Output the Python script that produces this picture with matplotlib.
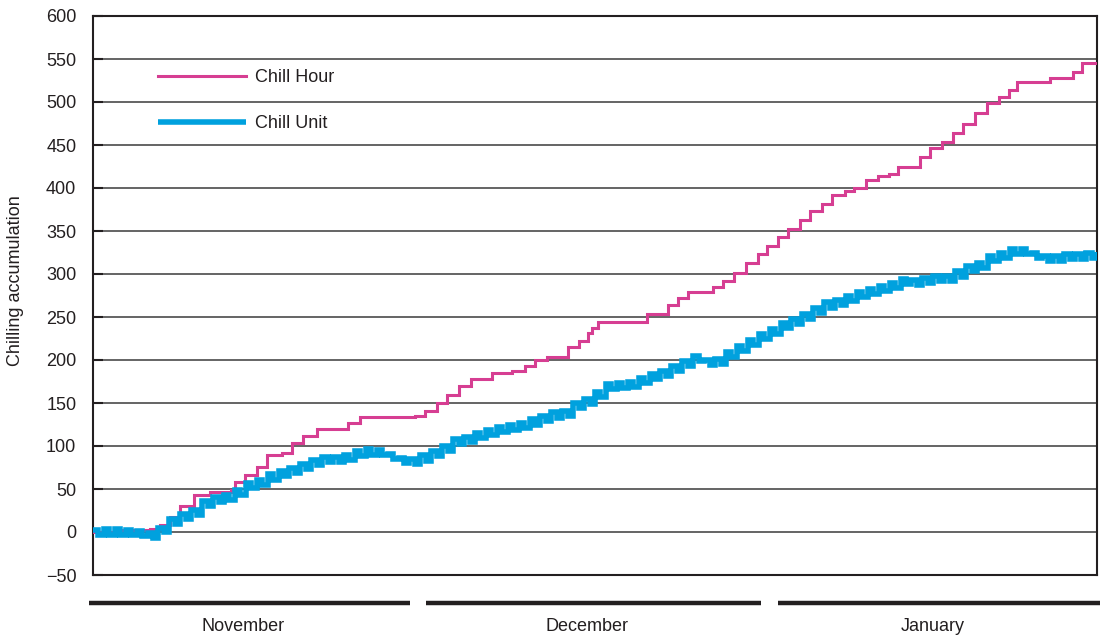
import matplotlib
matplotlib.use("Agg")
import matplotlib.pyplot as plt
import matplotlib.transforms as mtransforms
import numpy as np

plt.rcParams['font.family'] = ['Liberation Sans', 'DejaVu Sans']

# chill hours: (day, accumulated value) at each step change
ch_days = [0, 2.5, 5.2, 6.1, 7.1, 8.0, 9.3, 10.7, 12.6, 13.0, 13.9, 15.0, 15.9,
           17.3, 18.2, 19.2, 20.5, 23.4, 24.5, 29.5, 30.4, 31.5, 32.4, 33.5,
           34.6, 36.6, 38.4, 39.6, 40.5, 41.6, 43.5, 44.5, 45.4, 45.7, 46.3,
           50.8, 52.7, 53.6, 54.5, 56.8, 57.7, 58.7, 59.8, 60.9, 61.8, 62.8,
           63.7, 64.8, 65.7, 66.8, 67.7, 68.9, 69.7, 70.8, 71.9, 72.9, 73.8,
           75.8, 76.7, 77.8, 78.8, 79.7, 80.8, 81.9, 83.0, 83.9, 84.7, 87.7,
           89.8, 90.6, 92.0]
ch_vals = [0, 2, 3, 8, 18, 30, 43, 46, 49, 58, 66, 76, 90,
           92, 104, 112, 120, 127, 134, 135, 141, 150, 159, 170,
           178, 185, 187, 193, 200, 203, 215, 222, 231, 237, 244,
           253, 264, 272, 279, 285, 292, 301, 313, 323, 333, 343,
           352, 363, 373, 381, 392, 397, 400, 409, 414, 416, 424,
           436, 447, 453, 464, 475, 487, 499, 506, 514, 523, 528,
           535, 545, 545]

# chill units, read every half day (night high / afternoon low)
cu_vals = [2, -3, 3, -4, 4, -3, 2, -4, 1, -5, -1, -7, 5, 0, 15, 9, 21, 15, 26, 20,
           36, 30, 41, 35, 43, 37, 49, 43, 57, 51, 61, 55, 67, 61, 71, 65, 75, 69, 79, 73,
           84, 78, 87, 81, 87, 81, 90, 84, 94, 88, 96, 90, 95, 89, 91, 85, 86, 80, 85, 79,
           89, 83, 94, 88, 100, 94, 108, 102, 111, 105, 115, 109, 119, 113, 122, 116, 125, 119, 127, 121,
           131, 125, 135, 129, 139, 133, 141, 135, 150, 144, 155, 149, 163, 157, 172, 166, 173, 167, 175, 169,
           179, 173, 184, 178, 187, 181, 193, 187, 199, 193, 205, 199, 200, 194, 201, 195, 209, 203, 216, 210,
           223, 217, 230, 224, 236, 230, 243, 237, 248, 242, 254, 248, 261, 255, 267, 261, 270, 264, 275, 269,
           279, 273, 283, 277, 286, 280, 290, 284, 294, 288, 293, 287, 295, 289, 298, 292, 298, 292, 303, 297,
           309, 303, 313, 307, 321, 315, 325, 319, 329, 323, 329, 323, 325, 319, 321, 315, 321, 315, 323, 317,
           323, 317, 325, 319, 326]
cu_days = np.arange(len(cu_vals)) * 0.5

months = ["November", "December", "January"]
month_start = [0, 29.8, 62]
month_end = [29.8, 62, 92]

pink = "#D63E92"
blue = "#00A1DE"
ink = "#231F20"

fig = plt.figure(figsize=(11.06, 6.38), dpi=100)
ax = fig.add_axes([93/1106, 1-575/638, (1097-93)/1106, (575-16)/638])

ax.plot(ch_days, ch_vals, drawstyle="steps-post", color=pink, lw=2.2, label="Chill Hour",
        zorder=3, solid_joinstyle="miter")
ax.plot(cu_days, cu_vals, drawstyle="steps-post", color=blue, lw=4.0, label="Chill Unit",
        zorder=4, solid_joinstyle="miter", solid_capstyle="butt")

ax.set_xlim(0, 92)
ax.set_ylim(-50, 600)
ax.set_yticks(np.arange(-50, 601, 50))
ax.set_xticks([])
ax.yaxis.grid(True, color="#3a3a3a", lw=1.1)
ax.set_axisbelow(True)
ax.tick_params(axis="y", direction="in", length=7, width=1.5, pad=12, labelsize=13, colors=ink)
for s in ax.spines.values():
    s.set_linewidth(1.5)
    s.set_color(ink)
ax.set_ylabel("Chilling accumulation", fontsize=13, color=ink)
ax.yaxis.set_label_coords(-0.069, 0.526)

leg = ax.legend(loc="upper left", bbox_to_anchor=(0.0647, 0.905), frameon=False,
                fontsize=13, handlelength=4.9, handletextpad=0.45, labelspacing=1.6,
                borderpad=0, borderaxespad=0)
for t in leg.get_texts():
    t.set_color(ink)

trans = mtransforms.blended_transform_factory(ax.transData, ax.transAxes)
for i, name in enumerate(months):
    x0 = month_start[i] + (0.75 if i > 0 else -0.4)
    x1 = month_end[i] + (0.3 if i == len(months) - 1 else -0.75)
    ax.plot([x0, x1], [-0.05, -0.05], color=ink, lw=3.2, transform=trans,
            clip_on=False, solid_capstyle="butt")
    ax.text((x0 + x1) / 2 - 0.6, -0.093, name, transform=trans, ha="center", va="center",
            fontsize=13, color=ink)

fig.savefig("out.png", dpi=100)
